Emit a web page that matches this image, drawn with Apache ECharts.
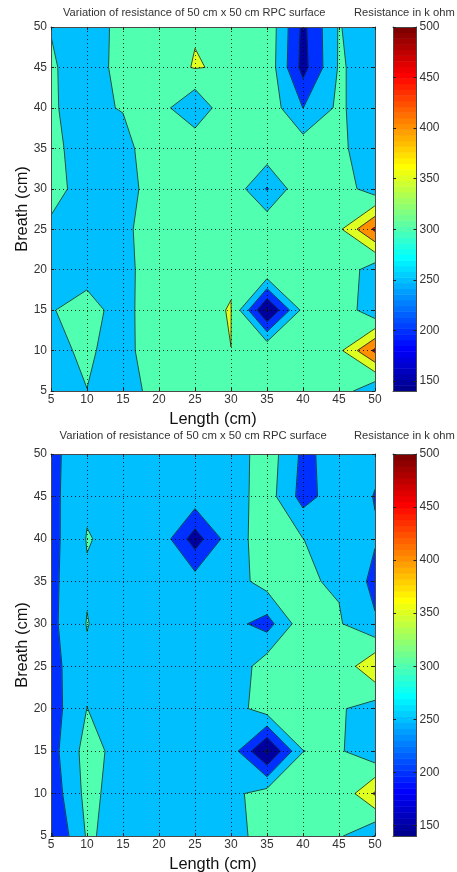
<!DOCTYPE html>
<html><head><meta charset="utf-8">
<style>html,body{margin:0;padding:0;background:#fff}#c{width:457px;height:872px}</style>
<script src="https://cdn.jsdelivr.net/npm/echarts@6/dist/echarts.min.js"></script>
</head><body><div id="c"></div>
<script>
const lengthCm = [5,10,15,20,25,30,35,40,45,50];
const breathCm = [50,45,40,35,30,25,20,15,10,5];
const surfaceTop = [
 [298,270,318,330,347,335,339,188,304,254],
 [307,270,320,330,352.7,343,337,182,305,280],
 [303,289,303,321,255,349,333,249.5,310,260],
 [317,270,280,342,345,340,336,327,315,257],
 [317,280,285,319,335,336,246,342,330,270],
 [291,270,285,338,340,340,342,335,340,460],
 [280,280,285,329,335,347,345,335,345,267],
 [297,320,278,345,344.3,351,142,314,342,258],
 [289.5,307,280,339,335,349.9,345,330,338,460],
 [280,299.5,280,317,325,330,320,325,332,252]
];
const surfaceBottom = [
 [242,270,268,270,270,268.6,329,239,270,260],
 [235,293,275,275,280,276,324,231,278,248],
 [232,302.5,287,286,175,279,323,300.5,280,254],
 [237,295,270,272,273,275,322,305,295,236],
 [237,302,269,270,270,267,230,330,305,256],
 [232,291,270,270,270,258,330,330,313,394],
 [226,300.6,272,272,272,276,326,320,306,277],
 [230,320,280,275,275,277.5,140,299.5,307,259],
 [219,315,276,272,270,287,322,320,306,406],
 [195,305,286,270,268,286.6,315,320,307,248]
];
const contourLevels = [140,150,200,250,300,350,400,450];
const colorbarTicks = [150,200,250,300,350,400,450,500];
const axisTicks = [5,10,15,20,25,30,35,40,45,50];
const climMin = 140, climMax = 500;
const titleText = 'Variation of resistance of 50 cm x 50 cm RPC surface';
const barTitleText = 'Resistance in k ohm';
const xName = 'Length (cm)', yName = 'Breath (cm)';

const FONT = '"Liberation Sans", Arial, sans-serif';
const TXT = '#333', FRAME = '#4a4a4a';

function jet(i){ // MATLAB jet(64), i = 1..64
  const cl = v => Math.max(0, Math.min(1, v));
  const r = i<=56 ? cl((i-24)/16) : 1-(i-56)/16;
  const g = i<=24 ? cl((i-8)/16) : (i<=40 ? 1 : cl(1-(i-40)/16));
  const b = i<=8 ? (i+8)/16 : (i<=24 ? 1 : cl(1-(i-24)/16));
  return 'rgb(' + [r,g,b].map(v=>Math.round(v*255)).join(',') + ')';
}
function levelColor(L){
  const i = Math.min(64, Math.floor((L-climMin)/(climMax-climMin)*64)+1);
  return jet(i);
}
const sortedBreath = breathCm.slice().reverse();
function contourItem(Z){
  const grid = Z.slice().reverse(); // row 0 = smallest breath
  return function(params, api){
    const L = api.value(2), fill = levelColor(L), kids = [];
    const P = (x,y)=>api.coord([x,y]);
    for(let j=0;j<sortedBreath.length-1;j++){
      for(let i=0;i<lengthCm.length-1;i++){
        const xs=[lengthCm[i],lengthCm[i+1],lengthCm[i+1],lengthCm[i]];
        const ys=[sortedBreath[j],sortedBreath[j],sortedBreath[j+1],sortedBreath[j+1]];
        const vs=[grid[j][i],grid[j][i+1],grid[j+1][i+1],grid[j+1][i]];
        const inn=vs.map(v=>v>=L);
        const cross=[null,null,null,null];
        for(let k=0;k<4;k++){
          const m=(k+1)%4;
          if(inn[k]!==inn[m]){
            const t=(L-vs[k])/(vs[m]-vs[k]);
            cross[k]=P(xs[k]+t*(xs[m]-xs[k]), ys[k]+t*(ys[m]-ys[k]));
          }
        }
        const cnt=cross.filter(Boolean).length;
        const center=(vs[0]+vs[1]+vs[2]+vs[3])/4>=L;
        const polys=[];
        if(cnt===4 && !center){
          const C=k=>P(xs[k],ys[k]);
          if(inn[0]){polys.push([C(0),cross[0],cross[3]],[C(2),cross[2],cross[1]]);}
          else {polys.push([C(1),cross[1],cross[0]],[C(3),cross[3],cross[2]]);}
        } else if(inn.some(Boolean)){
          const pts=[];
          for(let k=0;k<4;k++){
            if(inn[k]) pts.push(P(xs[k],ys[k]));
            if(cross[k]) pts.push(cross[k]);
          }
          polys.push(pts);
        }
        polys.forEach(p=>kids.push({type:'polygon',silent:true,shape:{points:p},
          style:{fill:fill,stroke:fill,lineWidth:0.7}}));
        const segs=[];
        if(cnt===2){ const c=cross.filter(Boolean); segs.push([c[0],c[1]]); }
        else if(cnt===4){
          if(inn[0]===center){segs.push([cross[0],cross[1]],[cross[2],cross[3]]);}
          else {segs.push([cross[3],cross[0]],[cross[1],cross[2]]);}
        }
        segs.forEach(s=>kids.push({type:'line',silent:true,z2:50,
          shape:{x1:s[0][0],y1:s[0][1],x2:s[1][0],y2:s[1][1]},
          style:{stroke:'#08242a',lineWidth:0.8}}));
      }
    }
    return {type:'group',children:kids};
  };
}
const barBands = [];
for(let i=1;i<=64;i++) barBands.push([0,climMin+(i-1)*(climMax-climMin)/64,i]);
function barItem(params, api){
  const i=api.value(2), lo=api.value(1), hi=lo+(climMax-climMin)/64;
  const a=api.coord([0,hi]), b=api.coord([1,lo]);
  return {type:'rect',silent:true,shape:{x:a[0],y:a[1],width:b[0]-a[0],height:b[1]-a[1]+0.5},
    style:{fill:jet(i)}};
}
const option = {animation:false,backgroundColor:'#fff',
  title:[],grid:[],xAxis:[],yAxis:[],series:[]};
function panel(Z, top, height, titleLeft, titleTop, titleSize, barTop){
  const g = option.grid.length, ax = option.xAxis.length, ay = option.yAxis.length;
  option.grid.push({left:51,top:top,width:324,height:height,containLabel:false,outerBoundsMode:'none'});
  option.grid.push({left:393,top:top,width:23.5,height:height,containLabel:false,outerBoundsMode:'none'});
  option.title.push({text:titleText,left:titleLeft,top:titleTop,
    textStyle:{fontFamily:FONT,fontSize:titleSize,fontWeight:'normal',color:TXT},padding:0});
  option.title.push({text:barTitleText,left:354,top:barTop,
    textStyle:{fontFamily:FONT,fontSize:11.2,fontWeight:'normal',color:TXT},padding:0});
  const common = {type:'value',min:5,max:50,interval:5,z:3,
    axisLine:{onZero:false,lineStyle:{color:FRAME,width:1}},
    axisTick:{inside:true,length:3,lineStyle:{color:'#222'},customValues:axisTicks},
    minorTick:{show:false}};
  const dotted = {show:true,lineStyle:{color:'rgba(0,0,0,0.8)',type:[1,3],width:1}};
  option.xAxis.push(Object.assign({},common,{gridIndex:g,position:'bottom',
    name:xName,nameLocation:'center',nameGap:20.5,
    nameTextStyle:{fontFamily:FONT,fontSize:16.4,color:'#111'},
    axisLabel:{fontFamily:FONT,fontSize:12,color:TXT,margin:3,hideOverlap:false},
    splitLine:dotted}));
  option.xAxis.push(Object.assign({},common,{gridIndex:g,position:'top',
    axisLabel:{show:false},splitLine:{show:false}}));
  option.yAxis.push(Object.assign({},common,{gridIndex:g,position:'left',
    name:yName,nameLocation:'center',nameGap:21,nameRotate:90,nameMoveOverlap:false,
    nameTextStyle:{fontFamily:FONT,fontSize:16.4,color:'#111'},
    axisLabel:{fontFamily:FONT,fontSize:12,color:TXT,margin:4,hideOverlap:false},
    splitLine:dotted}));
  option.yAxis.push(Object.assign({},common,{gridIndex:g,position:'right',
    axisLabel:{show:false},splitLine:{show:false}}));
  option.series.push({type:'custom',coordinateSystem:'cartesian2d',xAxisIndex:ax,yAxisIndex:ay,z:1,
    clip:true,silent:true,renderItem:contourItem(Z),
    encode:{x:0,y:1},data:contourLevels.map(L=>[5,5,L])});
  const barX = {type:'value',gridIndex:g+1,min:0,max:1,z:3,
    axisLine:{onZero:false,lineStyle:{color:FRAME}},axisTick:{show:false},axisLabel:{show:false},splitLine:{show:false}};
  option.xAxis.push(Object.assign({},barX,{position:'bottom'}));
  option.xAxis.push(Object.assign({},barX,{position:'top'}));
  const barY = {type:'value',gridIndex:g+1,min:climMin,max:climMax,z:3,
    axisLine:{onZero:false,lineStyle:{color:FRAME}},
    axisTick:{inside:true,length:3,lineStyle:{color:'#222'},customValues:colorbarTicks},splitLine:{show:false}};
  option.yAxis.push(Object.assign({},barY,{position:'left',axisLabel:{show:false}}));
  option.yAxis.push(Object.assign({},barY,{position:'right',
    axisLabel:{fontFamily:FONT,fontSize:12,color:TXT,margin:3,customValues:colorbarTicks,hideOverlap:false}}));
  option.series.push({type:'custom',coordinateSystem:'cartesian2d',xAxisIndex:ax+2,yAxisIndex:ay+2,z:1,
    silent:true,renderItem:barItem,encode:{x:0,y:1},data:barBands});
}
panel(surfaceTop, 27, 364, 63, 7, 11.1, 7);
panel(surfaceBottom, 454, 382, 59.5, 430.5, 11.3, 430);
const chart = echarts.init(document.getElementById('c'),null,{renderer:'canvas'});
chart.setOption(option);
</script></body></html>
